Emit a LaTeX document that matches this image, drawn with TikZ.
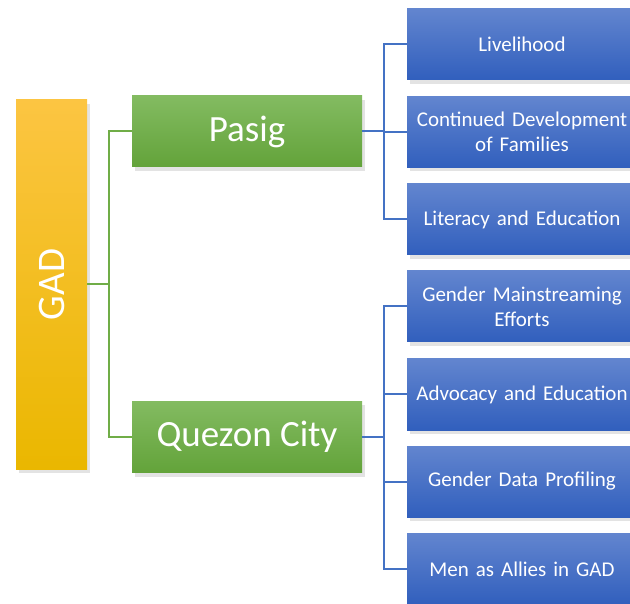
\documentclass[tikz,border=0pt]{standalone}
\usepackage{fontspec}
\setmainfont{Carlito}
\usetikzlibrary{shadows}

\definecolor{gadtop}{RGB}{252,197,66}
\definecolor{gadbot}{RGB}{234,183,0}
\definecolor{citytop}{RGB}{131,187,97}
\definecolor{citybot}{RGB}{99,163,58}
\definecolor{tasktop}{RGB}{98,133,207}
\definecolor{taskbot}{RGB}{49,95,189}
\definecolor{greenline}{RGB}{112,173,71}
\definecolor{blueline}{RGB}{68,114,196}

\begin{document}
\begin{tikzpicture}[x=1pt,y=1pt,
    every node/.style={inner sep=0,text=white,drop shadow={shadow xshift=3pt,shadow yshift=-4pt,opacity=0.22}},
    gadbox/.style={top color=gadtop,bottom color=gadbot,minimum width=71,minimum height=369,font=\fontsize{39}{44}\selectfont},
    citybox/.style={top color=citytop,bottom color=citybot,minimum width=230,minimum height=71,font=\fontsize{37}{42}\selectfont},
    taskbox/.style={top color=tasktop,bottom color=taskbot,minimum width=230,minimum height=71,text width=226,align=center,font=\fontsize{21}{25}\selectfont},
    gline/.style={draw=greenline,line width=2},
    bline/.style={draw=blueline,line width=2}]
  \useasboundingbox (0,0) rectangle (630,-604);
  % root
  \node[gadbox] (gad) at (51.5,-284.5) {\rotatebox{90}{GAD}};
  % cities
  \node[citybox] (pasig) at (247,-131.5) {Pasig};
  \node[citybox] (qc) at (247,-437) {Quezon City};
  % programmes
  \node[taskbox] (liv) at (522,-44.5) {Livelihood};
  \node[taskbox] (cont) at (522,-132) {Continued Development\\of Families};
  \node[taskbox] (lit) at (522,-219.5) {Literacy and Education};
  \node[taskbox] (gme) at (522,-306.5) {Gender Mainstreaming\\Efforts};
  \node[taskbox] (adv) at (522,-394.5) {Advocacy and Education};
  \node[taskbox] (gdp) at (522,-481.5) {Gender Data Profiling};
  \node[taskbox] (men) at (522,-569) {Men as Allies in GAD};
  % links
  \draw[gline] (gad.east) -- ++(22,0) coordinate (gj);
  \draw[gline] (gj) |- (pasig.west) (gj) |- (qc.west);
  \draw[bline] (pasig.east) -- ++(22,0) coordinate (pj);
  \foreach \t in {liv,cont,lit} \draw[bline] (pj) |- (\t.west);
  \draw[bline] (qc.east) -- ++(22,0) coordinate (qj);
  \foreach \t in {gme,adv,gdp,men} \draw[bline] (qj) |- (\t.west);
\end{tikzpicture}
\end{document}
